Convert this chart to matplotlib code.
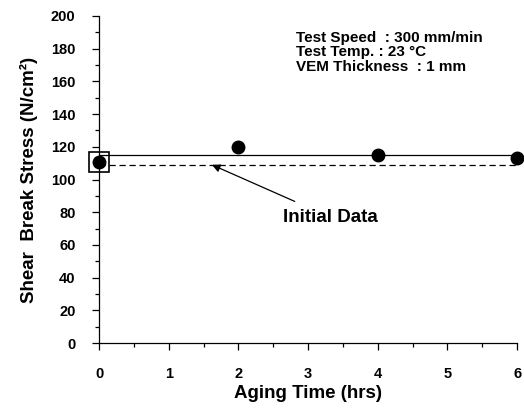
import numpy as np
import matplotlib.pyplot as plt
from matplotlib.ticker import MultipleLocator

plt.rcParams['font.family'] = ['Liberation Sans', 'DejaVu Sans']
plt.rcParams['font.weight'] = 'bold'

# datos
aging_time = [0, 2, 4, 6]
stress = [111, 120, 115, 113]
mean_level = 115
initial_level = 109

fig = plt.figure(figsize=(5.24, 4.09), dpi=100)
ax = fig.add_axes([0.189, 0.161, 0.798, 0.800])

ax.axhline(mean_level, color='black', lw=0.9)
ax.axhline(initial_level, color='black', lw=0.9, ls=(0, (5, 3)))
ax.plot(aging_time, stress, 'o', color='black', ms=9, clip_on=False, zorder=5)
ax.plot(aging_time[0], stress[0], 's', mfc='none', mec='black', mew=1.2, ms=14,
        clip_on=False, zorder=6)

ax.annotate('Initial Data', xy=(1.62, 109), xytext=(2.64, 77),
            fontsize=13.5, fontweight='bold', va='center', ha='left',
            arrowprops=dict(arrowstyle='-|>', color='black', lw=0.9,
                            shrinkA=8, shrinkB=0, mutation_scale=12))

ax.text(0.47, 0.955, 'Test Speed  : 300 mm/min\nTest Temp. : 23 \u00b0C\nVEM Thickness  : 1 mm',
        transform=ax.transAxes, fontsize=11, fontweight='bold', va='top', ha='left',
        linespacing=1.05)

ax.set_xlim(0, 6)
ax.set_ylim(0, 200)
ax.xaxis.set_major_locator(MultipleLocator(1))
ax.xaxis.set_minor_locator(MultipleLocator(0.5))
ax.yaxis.set_major_locator(MultipleLocator(20))
ax.yaxis.set_minor_locator(MultipleLocator(10))
ax.tick_params(which='both', direction='out', width=0.9, labelsize=10.5)
ax.tick_params(which='major', length=5)
ax.tick_params(which='minor', length=3)
ax.tick_params(axis='x', pad=12)
ax.tick_params(axis='y', pad=12)
for s in ['top', 'right']:
    ax.spines[s].set_visible(False)
for s in ['left', 'bottom']:
    ax.spines[s].set_linewidth(0.9)

ax.set_xlabel('Aging Time (hrs)', fontsize=13.5, fontweight='bold', labelpad=3)
ax.set_ylabel('Shear  Break Stress (N/cm\u00b2)', fontsize=13.5, fontweight='bold', labelpad=9)

fig.savefig('out.png', dpi=100)
